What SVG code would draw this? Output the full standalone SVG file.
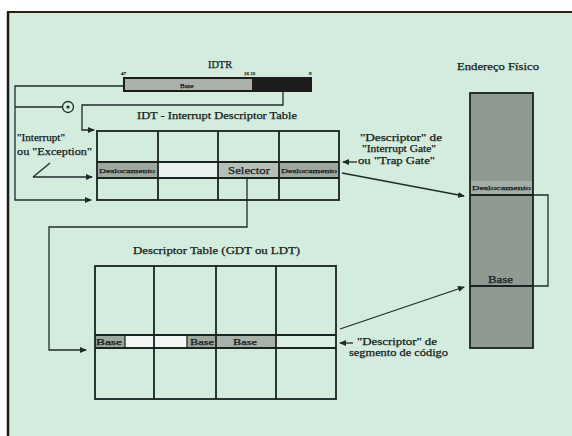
<svg xmlns="http://www.w3.org/2000/svg" width="572" height="436" viewBox="0 0 572 436">
<defs>
<marker id="ah" markerWidth="7" markerHeight="6" refX="6" refY="3" orient="auto" markerUnits="userSpaceOnUse">
<path d="M0,0 L7,3 L0,6 z" fill="#1f2a2a"/>
</marker>
<style>
.ln{fill:none;stroke:#1f2a2a;stroke-width:1.3}
.tb{fill:none;stroke:#1a2222;stroke-width:1.8}
.t{font-family:"Liberation Serif","DejaVu Serif",serif;fill:#142020;stroke:#142020;stroke-width:0.25}
.s{font-size:10.5px}
.xs{font-size:7px}
.g{fill:#9ea89f}
</style>
</defs>
<rect x="0" y="0" width="572" height="436" fill="#ffffff"/>
<rect x="8" y="12" width="564" height="424" fill="#d3ecdd"/>
<g id="frame">
<line x1="7" y1="12" x2="572" y2="12" stroke="#2a1e14" stroke-width="2"/>
<line x1="8" y1="12" x2="8" y2="436" stroke="#1a1a1a" stroke-width="2.5"/>
</g>

<g id="idtr">
<text class="t s" x="208" y="68" textLength="24" lengthAdjust="spacingAndGlyphs">IDTR</text>
<text class="t" font-size="5" x="121" y="75">47</text>
<text class="t" font-size="5" x="244" y="75">16 15</text>
<text class="t" font-size="5" x="309" y="75">0</text>
<rect x="123" y="77" width="189" height="15" fill="#1c1c1c"/>
<rect x="125" y="79" width="127" height="11" fill="#a9b3ab"/>
<text class="t xs" x="180" y="88">Base</text>
<text class="t xs" x="265" y="88" fill="#3a3a3a" stroke="none">Limite</text>
</g>

<g id="idt">
<text class="t s" x="137" y="119" textLength="160" lengthAdjust="spacingAndGlyphs">IDT - Interrupt Descriptor Table</text>
<rect x="97" y="162" width="61" height="16" class="g"/>
<rect x="158" y="162" width="60" height="16" fill="#e9f2ec"/>
<rect x="218" y="162" width="61" height="16" fill="#b7c0b8"/>
<rect x="279" y="162" width="60" height="16" class="g"/>
<rect x="97" y="131" width="242" height="69" class="tb"/>
<line x1="97" y1="162" x2="339" y2="162" class="tb"/>
<line x1="97" y1="178" x2="339" y2="178" class="tb"/>
<line x1="158" y1="131" x2="158" y2="200" class="tb"/>
<line x1="218" y1="131" x2="218" y2="200" class="tb"/>
<line x1="279" y1="131" x2="279" y2="200" class="tb"/>
<text class="t" font-size="6.5" x="99" y="173" textLength="56" lengthAdjust="spacingAndGlyphs">Deslocamento</text>
<text class="t s" x="228" y="174" textLength="42" lengthAdjust="spacingAndGlyphs">Selector</text>
<text class="t" font-size="6.5" x="281" y="173" textLength="56" lengthAdjust="spacingAndGlyphs">Deslocamento</text>
</g>

<g id="dt">
<text class="t s" x="133" y="254" textLength="167" lengthAdjust="spacingAndGlyphs">Descriptor Table  (GDT ou LDT)</text>
<rect x="95" y="335" width="30" height="13" class="g"/>
<rect x="125" y="335" width="62" height="13" fill="#f2f6f2"/>
<rect x="187" y="335" width="29" height="13" class="g"/>
<rect x="216" y="335" width="59" height="13" fill="#a8b2aa"/>
<rect x="275" y="335" width="61" height="13" fill="#dcefe3"/>
<rect x="95" y="266" width="241" height="133" class="tb"/>
<line x1="95" y1="335" x2="336" y2="335" class="tb"/>
<line x1="95" y1="348" x2="336" y2="348" class="tb"/>
<line x1="154" y1="266" x2="154" y2="399" class="tb"/>
<line x1="216" y1="266" x2="216" y2="399" class="tb"/>
<line x1="276" y1="266" x2="276" y2="399" class="tb"/>
<line x1="125" y1="335" x2="125" y2="348" class="ln"/>
<line x1="187" y1="335" x2="187" y2="348" class="ln"/>
<text class="t" font-size="8" x="96" y="345" textLength="26" lengthAdjust="spacingAndGlyphs">Base</text>
<text class="t" font-size="8" x="190" y="345" textLength="24" lengthAdjust="spacingAndGlyphs">Base</text>
<text class="t" font-size="8" x="233" y="345" textLength="24" lengthAdjust="spacingAndGlyphs">Base</text>
</g>

<g id="memory">
<text class="t s" x="457" y="70" textLength="82" lengthAdjust="spacingAndGlyphs">Endereço Físico</text>
<rect x="470" y="93" width="63" height="255" fill="#8f9a92" stroke="#1a2222" stroke-width="1.8"/>
<rect x="471" y="181" width="61" height="13" fill="#a3aea6"/>
<line x1="470" y1="195" x2="533" y2="195" class="tb"/>
<line x1="470" y1="286" x2="533" y2="286" class="tb"/>
<text class="t" font-size="6.5" x="472" y="190" textLength="59" lengthAdjust="spacingAndGlyphs">Deslocamento</text>
<text class="t s" x="488" y="283" textLength="25" lengthAdjust="spacingAndGlyphs">Base</text>
</g>

<g id="labels">
<text class="t s" x="17" y="141" textLength="48" lengthAdjust="spacingAndGlyphs">"Interrupt"</text>
<text class="t s" x="17" y="155" textLength="75" lengthAdjust="spacingAndGlyphs">ou "Exception"</text>
<text class="t s" x="360" y="141" textLength="82" lengthAdjust="spacingAndGlyphs">"Descriptor" de</text>
<text class="t s" x="362" y="152" textLength="74" lengthAdjust="spacingAndGlyphs">"Interrupt Gate"</text>
<text class="t s" x="358" y="164" textLength="77" lengthAdjust="spacingAndGlyphs">ou "Trap Gate"</text>
<text class="t s" x="357" y="345" textLength="80" lengthAdjust="spacingAndGlyphs">"Descriptor" de</text>
<text class="t s" x="349" y="356" textLength="99" lengthAdjust="spacingAndGlyphs">segmento de código</text>
</g>

<g id="connectors">
<polyline class="ln" points="123,86 15,86 15,200 91,200" marker-end="url(#ah)"/>
<line class="ln" x1="15" y1="107" x2="62" y2="107"/>
<circle cx="68" cy="107" r="5.5" fill="none" stroke="#1f2a2a" stroke-width="1.3"/>
<circle cx="68" cy="107" r="1.6" fill="#1f2a2a"/>
<polyline class="ln" points="283,92 283,105 82,105 82,130 94,130" marker-end="url(#ah)"/>
<line class="ln" x1="33" y1="177" x2="50" y2="163"/>
<line class="ln" x1="33" y1="177" x2="92" y2="177" marker-end="url(#ah)"/>
<polyline class="ln" points="247,178 247,227 49,227 49,350 86,350" marker-end="url(#ah)"/>
<line class="ln" x1="342" y1="173" x2="464" y2="196" marker-end="url(#ah)"/>
<line class="ln" x1="340" y1="329" x2="464" y2="287" marker-end="url(#ah)"/>
<line class="ln" x1="357" y1="162" x2="343" y2="162" marker-end="url(#ah)" stroke-width="1.6"/>
<line class="ln" x1="353" y1="343" x2="340" y2="343" marker-end="url(#ah)" stroke-width="2"/>
<polyline class="ln" points="533,195 548,195 548,286 533,286"/>
</g>
</svg>
